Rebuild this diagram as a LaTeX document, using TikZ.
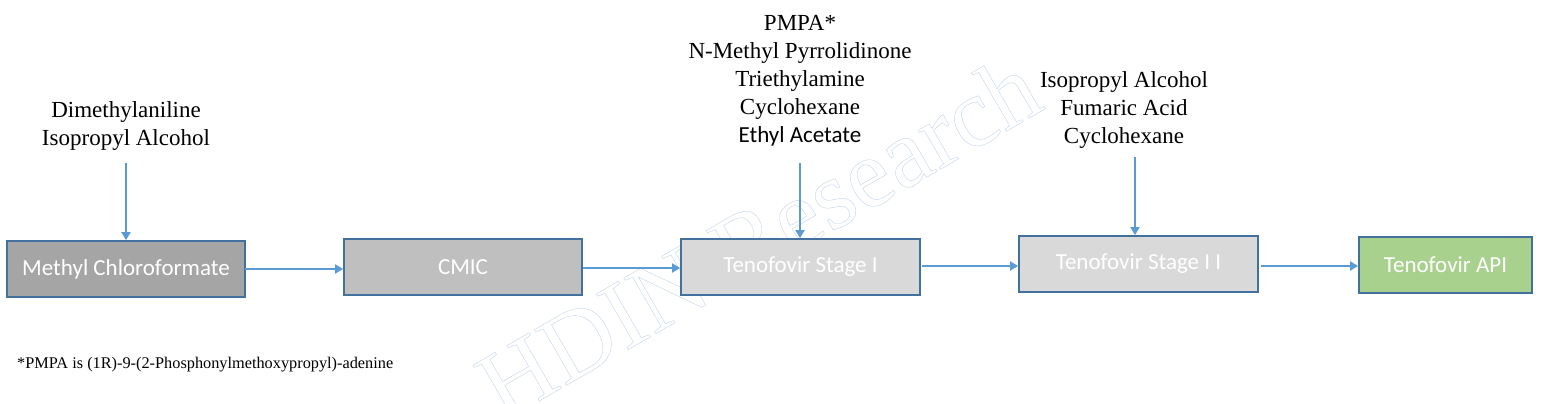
\documentclass[tikz,border=0pt]{standalone}
\usepackage{fontspec}
\setmainfont{Liberation Serif}
\newfontfamily\calfont{Carlito}
\usetikzlibrary{arrows.meta}
\definecolor{bord}{HTML}{41719C}
\definecolor{arr}{HTML}{5B9BD5}
\definecolor{fillA}{HTML}{A5A5A5}
\definecolor{fillB}{HTML}{BFBFBF}
\definecolor{fillC}{HTML}{D9D9D9}
\definecolor{fillD}{HTML}{A9D18E}
\definecolor{wm}{HTML}{C2D3EC}
\tikzset{
  stepbox/.style={draw=bord, line width=1.8pt, minimum height=56pt, inner sep=0pt,
    text=white, font=\calfont\fontsize{23}{26}\selectfont},
  flow/.style={draw=arr, line width=2.4pt, -{Triangle[length=8pt,width=9pt]}},
  reag/.style={align=center, font=\fontsize{23}{28}\selectfont, inner sep=0pt},
}
\begin{document}
\begin{tikzpicture}[x=1pt,y=-1pt]
\useasboundingbox[fill=white] (0,0) rectangle (1543,404);

% watermark
\node[rotate=30, text=wm, font=\fontsize{98}{98}\selectfont, inner sep=0pt] (wmark) at (758,236)
  {\special{pdf:literal direct 1 Tr}HDIN Research\special{pdf:literal direct 0 Tr}};

\node[stepbox, fill=fillA, minimum width=238pt] (mc) at (126,269) {Methyl Chloroformate};
\node[stepbox, fill=fillB, minimum width=238pt] (cmic) at (463,267) {CMIC};
\node[stepbox, fill=fillC, minimum width=239pt] (s1) at (800.5,267) {Tenofovir Stage I};
\node[stepbox, fill=fillC, minimum width=239pt] (s2) at (1138.5,264) {Tenofovir Stage I I};
\node[stepbox, fill=fillD, minimum width=173pt] (api) at (1445.5,265) {Tenofovir API};

\node[reag] (r1) at (126,126) {Dimethylaniline\\Isopropyl Alcohol};
\node[reag] (r2) at (800,81) {PMPA*\\N-Methyl Pyrrolidinone\\Triethylamine\\Cyclohexane\\{\calfont Ethyl Acetate}};
\node[reag] (r3) at (1124,110) {Isopropyl Alcohol\\Fumaric Acid\\Cyclohexane};

\coordinate (t1) at (126,163);
\coordinate (t2) at (800,163);
\coordinate (t3) at (1135,157);

\draw[flow] (t1) -- (t1 |- mc.north);
\draw[flow] (t2) -- (t2 |- s1.north);
\draw[flow] (t3) -- (t3 |- s2.north);

\coordinate (a1) at (245,269);
\coordinate (a2) at (583,268);
\coordinate (a3) at (922,266);
\coordinate (a4) at (1261,266);
\draw[flow] (a1) -- (a1 -| cmic.west);
\draw[flow] (a2) -- (a2 -| s1.west);
\draw[flow] (a3) -- (a3 -| s2.west);
\draw[flow] (a4) -- (a4 -| api.west);

\node[anchor=west, inner sep=0pt, font=\fontsize{16.3}{19}\selectfont] (note) at (17,365)
  {*PMPA is (1R)-9-(2-Phosphonylmethoxypropyl)-adenine};
\end{tikzpicture}
\end{document}
